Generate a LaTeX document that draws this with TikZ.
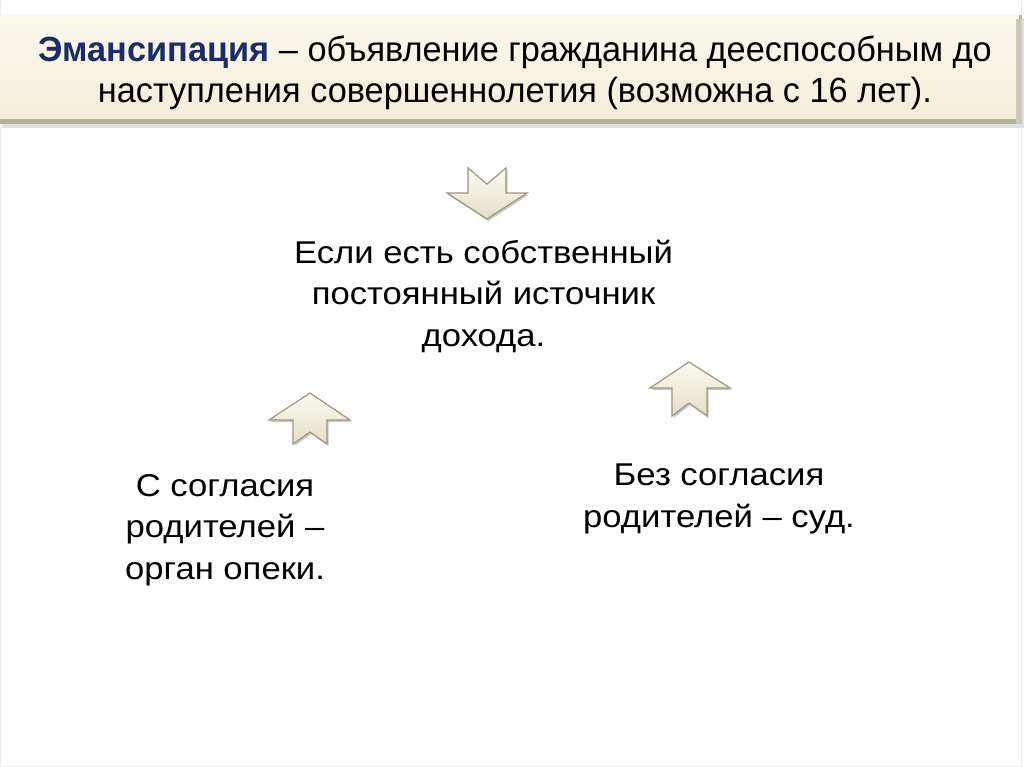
\documentclass[tikz,border=0pt]{standalone}
\usepackage{fontspec}
\setmainfont{Liberation Sans}
\newfontfamily\headfont[FakeStretch=0.98]{Liberation Sans}
\newfontfamily\bodyfont[FakeStretch=1.1]{Liberation Sans}
\usetikzlibrary{shadows}
\definecolor{bannerfill}{HTML}{F3EED9}
\definecolor{bannerlight}{HTML}{FBF8EC}
\definecolor{banneredge}{HTML}{B9B29A}
\definecolor{headblue}{HTML}{1B2B6C}
\definecolor{arrowtop}{HTML}{FCFAF2}
\definecolor{arrowbot}{HTML}{E4DEC6}
\definecolor{arrowedge}{HTML}{9C9682}
\tikzset{
  arrowshape/.style={top color=arrowtop, bottom color=arrowbot, draw=arrowedge,
    line width=1.2pt, line join=miter,
    drop shadow={shadow xshift=1.5pt, shadow yshift=-2pt, opacity=0.35, fill=black!60}},
  headtext/.style={font=\headfont\fontsize{35}{41}\selectfont, align=center, anchor=base, inner sep=0pt},
  bodytext/.style={font=\bodyfont\fontsize{31.5}{41.5}\selectfont, align=center, anchor=base, inner sep=0pt}
}
\begin{document}
\begin{tikzpicture}[x=1pt,y=-1pt]
\useasboundingbox (0,0) rectangle (1024,767);
\fill[white] (0,0) rectangle (1024,767);
\draw[black!7] (0.5,0.5) -- (0.5,766) -- (1021.5,766) -- (1021.5,0.5);
% banner
\fill[black!12] (2,18) rectangle (1024,128);
\fill[banneredge] (0,15) rectangle (1022,124);
\fill[bannerlight] (0,15) rectangle (1019,19);
\shade[top color=bannerlight, bottom color=bannerfill] (0,19) rectangle (1016,119);
\fill[banneredge!70] (1016,19) rectangle (1022,124);
\node[headtext] (head) at (515,103) {{\bfseries\color{headblue}Эмансипация} – объявление гражданина дееспособным до\\ наступления совершеннолетия (возможна с 16 лет).};
% arrows
\path[arrowshape] (468,168) -- (487,184) -- (506,168) -- (506,193) -- (527,193) -- (487,219) -- (447,193) -- (468,193) -- cycle;
\path[arrowshape] (310,393) -- (350,420) -- (327,420) -- (327,444) -- (310,432) -- (293,444) -- (293,420) -- (269,420) -- cycle;
\path[arrowshape] (689,362) -- (730,388) -- (707,388) -- (707,416) -- (689,403) -- (672,416) -- (672,388) -- (650,388) -- cycle;
% texts
\node[bodytext] (income) at (483.5,346) {Если есть собственный\\ постоянный источник\\ дохода.};
\node[bodytext] (consent) at (225,579) {С согласия\\ родителей –\\ орган опеки.};
\node[bodytext] (court) at (719,527) {Без согласия\\ родителей – суд.};
\end{tikzpicture}
\end{document}
